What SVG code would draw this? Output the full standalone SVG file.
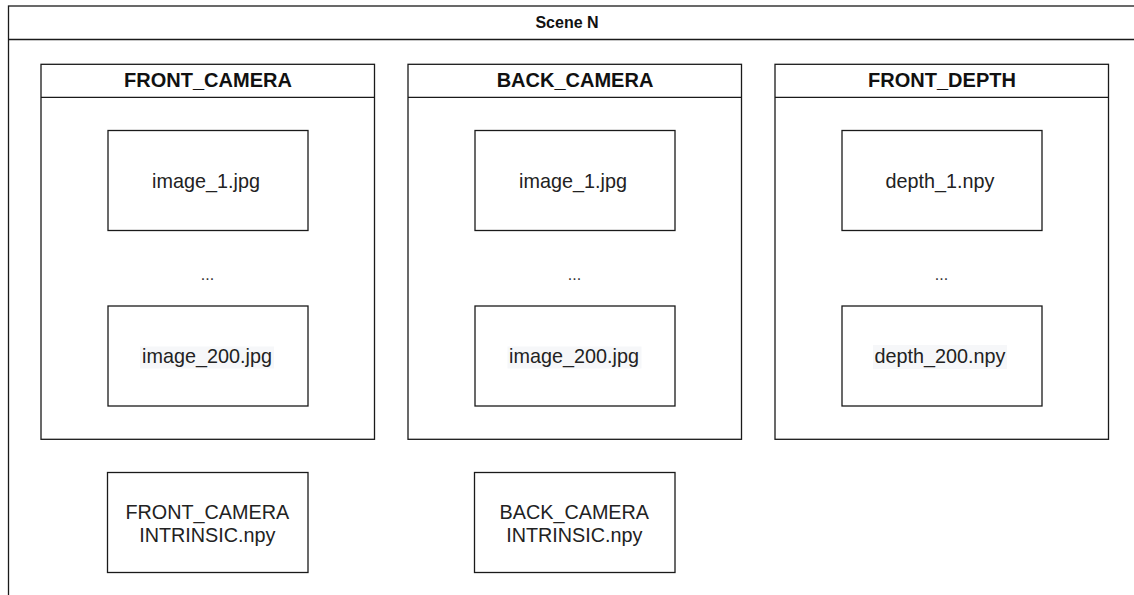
<svg xmlns="http://www.w3.org/2000/svg" width="1134" height="595" viewBox="0 0 1134 595">
<style>
.b{fill:#fff;stroke:#1a1a1a;stroke-width:1.3}
.l{fill:none;stroke:#1a1a1a;stroke-width:1.3}
.h{font-family:"Liberation Sans",Arial,sans-serif;font-weight:bold;font-size:20px;fill:#111;text-anchor:middle}
.s{font-family:"Liberation Sans",Arial,sans-serif;font-weight:bold;font-size:16px;fill:#111;text-anchor:middle}
.t{font-family:"Liberation Sans",Arial,sans-serif;font-size:19.8px;fill:#222;text-anchor:middle}
.d{font-family:"Liberation Sans",Arial,sans-serif;font-size:16px;fill:#333;text-anchor:middle}
.hl{fill:#f6f7f9;stroke:none}
</style>
<rect width="1134" height="595" fill="#fff"/>
<g id="scene">
<rect class="b" x="8.5" y="6" width="1140" height="600"/>
<line class="l" x1="8.5" y1="39.5" x2="1140" y2="39.5"/>
<text class="s" x="567" y="28.3">Scene N</text>
</g>
<g id="front_camera">
<rect class="b" x="41" y="64.3" width="333.5" height="375"/>
<line class="l" x1="41" y1="97.3" x2="374.5" y2="97.3"/>
<text class="h" x="208" y="87">FRONT_CAMERA</text>
</g>
<g id="front_image_1">
<rect class="b" x="108" y="130.5" width="200" height="100"/>
<text class="t" x="206" y="187.5">image_1.jpg</text>
</g>
<text class="d" x="207.5" y="280">...</text>
<g id="front_image_200">
<rect class="b" x="108" y="306" width="200" height="100"/>
<rect class="hl" x="140" y="346.5" width="134" height="22"/>
<text class="t" x="207" y="363">image_200.jpg</text>
</g>
<g id="back_camera">
<rect class="b" x="408" y="64.3" width="333.5" height="375"/>
<line class="l" x1="408" y1="97.3" x2="741.5" y2="97.3"/>
<text class="h" x="575" y="87">BACK_CAMERA</text>
</g>
<g id="back_image_1">
<rect class="b" x="475" y="130.5" width="200" height="100"/>
<text class="t" x="573" y="187.5">image_1.jpg</text>
</g>
<text class="d" x="574.5" y="280">...</text>
<g id="back_image_200">
<rect class="b" x="475" y="306" width="200" height="100"/>
<rect class="hl" x="507.5" y="346.5" width="134" height="22"/>
<text class="t" x="574" y="363">image_200.jpg</text>
</g>
<g id="front_depth">
<rect class="b" x="775" y="64.3" width="333.5" height="375"/>
<line class="l" x1="775" y1="97.3" x2="1108.5" y2="97.3"/>
<text class="h" x="942" y="87">FRONT_DEPTH</text>
</g>
<g id="depth_1">
<rect class="b" x="842" y="130.5" width="200" height="100"/>
<text class="t" x="940" y="187.5">depth_1.npy</text>
</g>
<text class="d" x="941.5" y="280">...</text>
<g id="depth_200">
<rect class="b" x="842" y="306" width="200" height="100"/>
<rect class="hl" x="873" y="345" width="134" height="24"/>
<text class="t" x="940" y="363">depth_200.npy</text>
</g>
<g id="front_intrinsic">
<rect class="b" x="107.5" y="472.5" width="200.5" height="100"/>
<text class="t" x="207.3" y="519.3">FRONT_CAMERA</text>
<text class="t" x="207.3" y="541.7">INTRINSIC.npy</text>
</g>
<g id="back_intrinsic">
<rect class="b" x="474.5" y="472.5" width="200.5" height="100"/>
<text class="t" x="574.3" y="519.3">BACK_CAMERA</text>
<text class="t" x="574.3" y="541.7">INTRINSIC.npy</text>
</g>
<g id="connectors"></g>
</svg>
